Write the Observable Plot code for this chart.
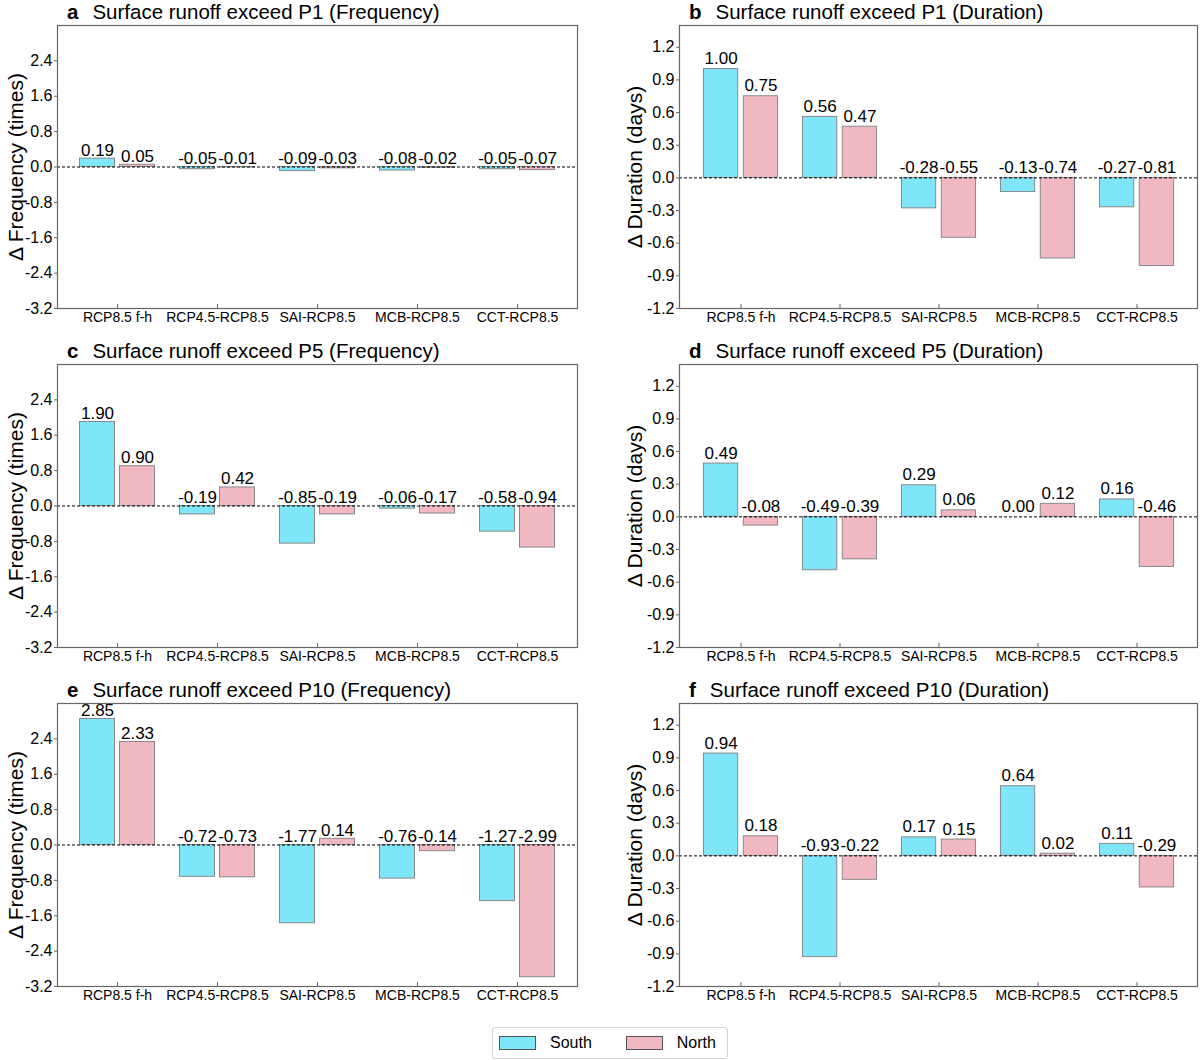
<!DOCTYPE html>
<html>
<head>
<meta charset="utf-8">
<script src="https://cdn.jsdelivr.net/npm/d3@7"></script>
<script src="https://cdn.jsdelivr.net/npm/@observablehq/plot@0.6"></script>
<style>
  body { margin: 0; background: #fff; font-family: "Liberation Sans", Arial, sans-serif; }
  #wrap { position: relative; width: 1200px; height: 1060px; overflow: hidden; }
  .title { position: absolute; font-size: 20.5px; line-height: 22px; color: #000; white-space: nowrap; }
  .title b { margin-right: 14px; }
  .panel { position: absolute; }
  .legend { position: absolute; left: 492px; top: 1027px; width: 234px; height: 30px; border: 1px solid #d0d0d0; border-radius: 3px;
            display: flex; align-items: center; font-size: 16px; }
  .sw { display: inline-block; width: 35px; height: 12px; border: 1px solid #555; }
</style>
</head>
<body>
<div id="wrap"></div>
<script>
const categories = ["RCP8.5 f-h", "RCP4.5-RCP8.5", "SAI-RCP8.5", "MCB-RCP8.5", "CCT-RCP8.5"];
const regions = ["South", "North"];
const colors = ["#7fe6fa", "#f2b8c1"];

const freqTicks = [-3.2, -2.4, -1.6, -0.8, 0.0, 0.8, 1.6, 2.4];
const durTicks = [-1.2, -0.9, -0.6, -0.3, 0.0, 0.3, 0.6, 0.9, 1.2];

const aSouth = [0.19, -0.05, -0.09, -0.08, -0.05];
const aNorth = [0.05, -0.01, -0.03, -0.02, -0.07];
const bSouth = [1.00, 0.56, -0.28, -0.13, -0.27];
const bNorth = [0.75, 0.47, -0.55, -0.74, -0.81];
const cSouth = [1.90, -0.19, -0.85, -0.06, -0.58];
const cNorth = [0.90, 0.42, -0.19, -0.17, -0.94];
const dSouth = [0.49, -0.49, 0.29, 0.00, 0.16];
const dNorth = [-0.08, -0.39, 0.06, 0.12, -0.46];
const eSouth = [2.85, -0.72, -1.77, -0.76, -1.27];
const eNorth = [2.33, -0.73, 0.14, -0.14, -2.99];
const fSouth = [0.94, -0.93, 0.17, 0.64, 0.11];
const fNorth = [0.18, -0.22, 0.15, 0.02, -0.29];

const panels = [
  {letter: "a", title: "Surface runoff exceed P1 (Frequency)", south: aSouth, north: aNorth, kind: "freq", col: 0, row: 0},
  {letter: "b", title: "Surface runoff exceed P1 (Duration)", south: bSouth, north: bNorth, kind: "dur", col: 1, row: 0},
  {letter: "c", title: "Surface runoff exceed P5 (Frequency)", south: cSouth, north: cNorth, kind: "freq", col: 0, row: 1},
  {letter: "d", title: "Surface runoff exceed P5 (Duration)", south: dSouth, north: dNorth, kind: "dur", col: 1, row: 1},
  {letter: "e", title: "Surface runoff exceed P10 (Frequency)", south: eSouth, north: eNorth, kind: "freq", col: 0, row: 2},
  {letter: "f", title: "Surface runoff exceed P10 (Duration)", south: fSouth, north: fNorth, kind: "dur", col: 1, row: 2}
];

const wrap = document.getElementById("wrap");
const FRAME_H = 283, MT = 10, MB = 32;

for (const p of panels) {
  const rowTop = p.row * 339;
  const frameTop = 25 + rowTop;
  const svgLeft = p.col === 0 ? 0 : 600;
  const marginLeft = p.col === 0 ? 57 : 79;
  const width = p.col === 0 ? 580 : 600;
  const marginRight = 3;
  const W = width - marginLeft - marginRight;
  const bw = W / 5.2;

  const rows = [];
  categories.forEach((c, i) => {
    rows.push({cat: c, region: "South", v: p.south[i]});
    rows.push({cat: c, region: "North", v: p.north[i]});
  });
  const south = rows.filter(d => d.region === "South");
  const north = rows.filter(d => d.region === "North");

  const isFreq = p.kind === "freq";
  const domain = isFreq ? [-3.2, 3.2] : [-1.2, 1.4];
  const ticks = isFreq ? freqTicks : durTicks;
  const ylabel = isFreq ? "Δ Frequency (times)" : "Δ Duration (days)";
  const ldy = isFreq ? -3 : -5;
  const labelDx = p.col === 0 ? -41 : -44;

  const chart = Plot.plot({
    width, height: MT + FRAME_H + MB,
    marginLeft, marginRight, marginTop: MT, marginBottom: MB,
    style: {fontFamily: "Liberation Sans, Arial, sans-serif", background: "#fff", overflow: "visible"},
    x: {domain: categories, paddingInner: 0, paddingOuter: 0.1, label: null},
    y: {domain, label: null},
    marks: [
      Plot.barY(south, {x: "cat", y: "v", fill: colors[0], stroke: "#888", strokeWidth: 1,
        insetLeft: bw * 0.125, insetRight: bw * 0.525}),
      Plot.barY(north, {x: "cat", y: "v", fill: colors[1], stroke: "#888", strokeWidth: 1,
        insetLeft: bw * 0.525, insetRight: bw * 0.125}),
      Plot.ruleY([0], {stroke: "#000", strokeWidth: 1, strokeDasharray: "3,2"}),
      Plot.text(south, {x: "cat", y: d => Math.max(d.v, 0), text: d => d.v.toFixed(2), dx: -bw * 0.2, dy: ldy,
        lineAnchor: "bottom", fontSize: 17, fill: "#000"}),
      Plot.text(north, {x: "cat", y: d => Math.max(d.v, 0), text: d => d.v.toFixed(2), dx: bw * 0.2, dy: ldy,
        lineAnchor: "bottom", fontSize: 17, fill: "#000"}),
      Plot.tickX(categories, {x: d => d, insetTop: FRAME_H - 4, stroke: "#666"}),
      Plot.axisX({tickSize: 0, tickPadding: 4, fontSize: 14, label: null, fill: "#000"}),
      Plot.axisY({ticks, tickSize: 3, tickPadding: 2, tickFormat: d => d.toFixed(1), fontSize: 16, label: null, stroke: "#666", fill: "#000"}),
      Plot.text([ylabel], {text: d => d, frameAnchor: "left", dx: labelDx, rotate: -90, textAnchor: "middle", fontSize: 21, fill: "#000"}),
      Plot.frame({stroke: "#666", strokeWidth: 1.2})
    ]
  });
  const holder = document.createElement("div");
  holder.className = "panel";
  holder.style.left = svgLeft + "px";
  holder.style.top = (frameTop - MT) + "px";
  holder.appendChild(chart);
  wrap.appendChild(holder);

  const t = document.createElement("div");
  t.className = "title";
  t.style.left = (svgLeft + marginLeft + 10) + "px";
  t.style.top = (rowTop + 1) + "px";
  t.innerHTML = `<b>${p.letter}</b>${p.title}`;
  wrap.appendChild(t);
}

const legend = document.createElement("div");
legend.className = "legend";
legend.innerHTML = `<span class="sw" style="margin-left:6px;background:${colors[0]}"></span><span style="margin-left:14px">${regions[0]}</span>` +
  `<span class="sw" style="margin-left:34px;background:${colors[1]}"></span><span style="margin-left:14px">${regions[1]}</span>`;
wrap.appendChild(legend);
</script>
</body>
</html>
